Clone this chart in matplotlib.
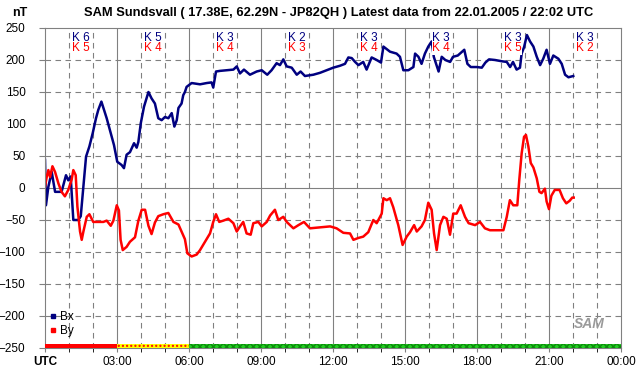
import numpy as np
import matplotlib
matplotlib.use("Agg")
import matplotlib.pyplot as plt
from matplotlib.lines import Line2D

# --- data (hours UTC, nT) ---
bx_t = [0.0, 0.04, 0.14, 0.28, 0.35, 0.42, 0.69, 0.875, 0.97, 1.07, 1.18, 1.39, 1.49, 1.6, 1.71, 1.85,
        1.99, 2.125, 2.22, 2.35, 2.46, 2.57, 2.71, 2.875, 3.01, 3.19, 3.29, 3.40, 3.54, 3.71, 3.82, 3.89,
        3.99, 4.125, 4.31, 4.44, 4.58, 4.72, 4.86, 5.0, 5.14, 5.28, 5.39, 5.49, 5.56, 5.69, 5.76, 5.83,
        5.90, 6.11, 6.46, 6.74, 6.94, 7.01, 7.125, 7.29, 7.57, 7.85, 7.99, 8.125, 8.29, 8.54, 8.82, 9.03,
        9.26, 9.44, 9.65, 9.79, 9.93, 10.07, 10.28, 10.49, 10.65, 10.83, 11.18, 11.46, 11.74, 12.01, 12.29,
        12.5, 12.64, 12.78, 12.92, 13.06, 13.26, 13.40, 13.61, 13.82, 14.0, 14.10, 14.375, 14.65, 14.79,
        14.93, 15.14, 15.35, 15.42, 15.56, 15.69, 15.83, 15.97, 16.11, 16.2, 16.4, 16.53, 16.68, 16.88,
        17.0, 17.2, 17.47, 17.6, 17.74, 18.0, 18.2, 18.35, 18.5, 18.75, 19.04, 19.24, 19.38, 19.5, 19.65,
        19.79, 19.86, 19.96, 20.08, 20.21, 20.35, 20.49, 20.63, 20.76, 20.90, 21.04, 21.18, 21.39, 21.53,
        21.67, 21.81, 22.01]
bx_v = [44, -27, 2, 25, 10, -6, -6, 20, 12, 18, -50, -50, -44, 2, 49, 65,
        86, 109, 122, 135, 122, 109, 90, 67, 41, 36, 31, 52, 56, 70, 63, 72,
        101, 127, 150, 140, 132, 109, 106, 111, 109, 117, 96, 106, 125, 132, 145, 150,
        158, 164, 162, 164, 165, 157, 182, 183, 184, 185, 190, 179, 185, 177, 182, 184,
        177, 184, 195, 192, 201, 190, 188, 177, 182, 175, 177, 180, 184, 188, 191,
        194, 204, 203, 197, 192, 197, 185, 204, 200, 196, 221, 213, 210, 205,
        184, 184, 189, 210, 205, 194, 210, 221, 229, 205, 182, 205, 200, 197,
        205, 207, 216, 194, 189, 189, 188, 196, 201, 200, 198, 197, 189, 197, 185,
        188, 210, 220, 239, 229, 221, 205, 192, 202, 216, 194, 207, 202, 194,
        177, 173, 175]

by_t = [0.0, 0.07, 0.14, 0.21, 0.31, 0.42, 0.56, 0.69, 0.83, 0.97, 1.11, 1.18, 1.28, 1.35, 1.46, 1.53,
        1.6, 1.74, 1.85, 2.01, 2.43, 2.57, 2.74, 2.85, 2.99, 3.08, 3.15, 3.24, 3.4, 3.54, 3.75, 3.89,
        4.03, 4.17, 4.31, 4.44, 4.58, 4.72, 4.93, 5.14, 5.35, 5.56, 5.69, 5.83, 5.93, 6.11, 6.32, 6.46,
        6.67, 6.875, 7.01, 7.125, 7.26, 7.43, 7.64, 7.85, 7.99, 8.125, 8.26, 8.4, 8.57, 8.68, 8.89, 9.03,
        9.24, 9.38, 9.58, 9.72, 9.93, 10.07, 10.35, 10.56, 10.79, 11.04, 11.32, 11.6, 11.88, 12.15, 12.43,
        12.71, 12.85, 13.06, 13.26, 13.47, 13.68, 13.82, 14.03, 14.1, 14.24, 14.375, 14.51, 14.72, 14.9,
        15.07, 15.21, 15.38, 15.49, 15.69, 15.83, 15.97, 16.11, 16.21, 16.32, 16.46, 16.6, 16.74, 16.875,
        17.01, 17.15, 17.32, 17.5, 17.65, 17.92, 18.125, 18.33, 18.54, 19.1, 19.24, 19.37, 19.51, 19.68,
        19.76, 19.86, 19.96, 20.04, 20.14, 20.24, 20.35, 20.49, 20.6, 20.69, 20.83, 20.9, 21.0, 21.1,
        21.24, 21.44, 21.58, 21.72, 21.86, 21.97, 22.03]
by_v = [2, 17, 28, 17, 34, 25, 7, -6, -13, -3, 13, 28, 20, -29, -68, -81,
        -68, -45, -41, -53, -53, -51, -59, -51, -27, -35, -81, -97, -92, -84, -77, -51,
        -34, -34, -59, -72, -54, -44, -41, -39, -53, -57, -68, -80, -102, -107, -104, -97,
        -84, -71, -53, -41, -53, -51, -48, -55, -68, -60, -53, -71, -73, -55, -53, -60,
        -53, -43, -34, -50, -45, -53, -63, -58, -53, -63, -62, -61, -60, -63, -70,
        -71, -81, -78, -76, -69, -50, -55, -40, -16, -19, -16, -30, -58, -89,
        -76, -69, -58, -68, -60, -50, -23, -34, -71, -97, -58, -45, -48, -73,
        -40, -40, -27, -45, -55, -58, -53, -63, -66, -66, -45, -19, -27, -27,
        12, 54, 80, 83, 65, 39, 32, 15, -6, -8, -1, -21, -33, -12,
        -3, -3, -16, -24, -20, -15, -15]

# K indices per 3 hour block
k_bx = [6, 5, 3, 2, 3, 3, 3, 3]
k_by = [5, 4, 4, 3, 4, 4, 5, 2]

# status bar under the plot
bar_start = [0, 3, 6]
bar_len = [3, 3, 18]

title = "SAM Sundsvall ( 17.38E, 62.29N - JP82QH ) Latest data from 22.01.2005 / 22:02 UTC"
xtick_labels = ["UTC", "03:00", "06:00", "09:00", "12:00", "15:00", "18:00", "21:00", "00:00"]

plt.rcParams['font.family'] = ['Liberation Sans', 'DejaVu Sans']

fig = plt.figure(figsize=(6.42, 3.76), dpi=100)
ax = fig.add_axes([45 / 642, 28 / 376, 576 / 642, 320 / 376])

grid_c = '#808080'

# grid ---------------------------
for h in range(1, 24):
    if h % 3 == 0:
        ax.axvline(h, color=grid_c, lw=0.8, zorder=1)
    else:
        ax.axvline(h, color=grid_c, lw=0.8, ls=(0, (5, 4)), zorder=1)
for v in range(-200, 250, 50):
    if v == 0:
        ax.axhline(v, color=grid_c, lw=0.8, zorder=1)
    else:
        ax.axhline(v, color=grid_c, lw=0.8, ls=(0, (5, 4)), zorder=1)

# data ---------------------------
ax.plot(bx_t, bx_v, color='#000080', lw=1.8, zorder=2)
ax.plot(by_t, by_v, color='#ff0000', lw=1.8, zorder=2)

# K labels
for i in range(len(k_bx)):
    ax.text(1.5 + 3 * i, 235, 'K %d' % k_bx[i], color='#000080', fontsize=8.5, ha='center', va='center',
            zorder=4, bbox=dict(facecolor='white', edgecolor='none', pad=0.3))
    ax.text(1.5 + 3 * i, 218, 'K %d' % k_by[i], color='#ff0000', fontsize=8.5, ha='center', va='center',
            zorder=4, bbox=dict(facecolor='white', edgecolor='none', pad=0.3))

# status bar
ax.broken_barh([(bar_start[0], bar_len[0])], (-250, 7), facecolors='#ff0000', edgecolor='none', zorder=3)
ax.broken_barh([(bar_start[1], bar_len[1])], (-250, 7), facecolors='#ffff00', edgecolor='#ff0000',
               hatch='....', linewidth=0, zorder=3)
ax.broken_barh([(bar_start[2], bar_len[2])], (-250, 7), facecolors='#22cc22', edgecolor='#0b8a0b',
               hatch='xxxxx', linewidth=0, zorder=3)

# axes ---------------------------
ax.set_xlim(0, 24)
ax.set_ylim(-250, 250)
ax.set_xticks(range(0, 25, 3))
ax.set_xticks(range(0, 25, 1), minor=True)
ax.set_xticklabels(xtick_labels)
ax.get_xticklabels()[0].set_fontweight('bold')
ax.set_yticks(range(-250, 251, 50))
ax.tick_params(axis='both', colors=grid_c, labelcolor='black', labelsize=8.5, width=0.8)
ax.tick_params(axis='x', which='both', length=3, pad=3)
ax.tick_params(axis='y', length=4, pad=10)
for s in ax.spines.values():
    s.set_color(grid_c)
    s.set_linewidth(0.8)

fig.text(339 / 642, 1 - 13 / 376, title, fontsize=9.3, fontweight='bold', ha='center', va='center')
fig.text(20 / 642, 1 - 13 / 376, 'nT', fontsize=9, fontweight='bold', ha='center', va='center')

# legend
handles = [Line2D([], [], color='#000080', marker='s', ls='', ms=3),
           Line2D([], [], color='#ff0000', marker='s', ls='', ms=3)]
ax.legend(handles, ['Bx', 'By'], loc='lower left', bbox_to_anchor=(0.0, 0.02), frameon=False,
          fontsize=8.5, handlelength=0.6, handletextpad=0.3, labelspacing=0.15, borderaxespad=0.2,
          borderpad=0.2)

# logo
ax.text(0.945, 0.075, 'SAM', transform=ax.transAxes, fontsize=10, fontstyle='italic',
        fontweight='bold', color='#9a9a9a', ha='center', va='center', zorder=4)

fig.savefig('out.png', dpi=100)
